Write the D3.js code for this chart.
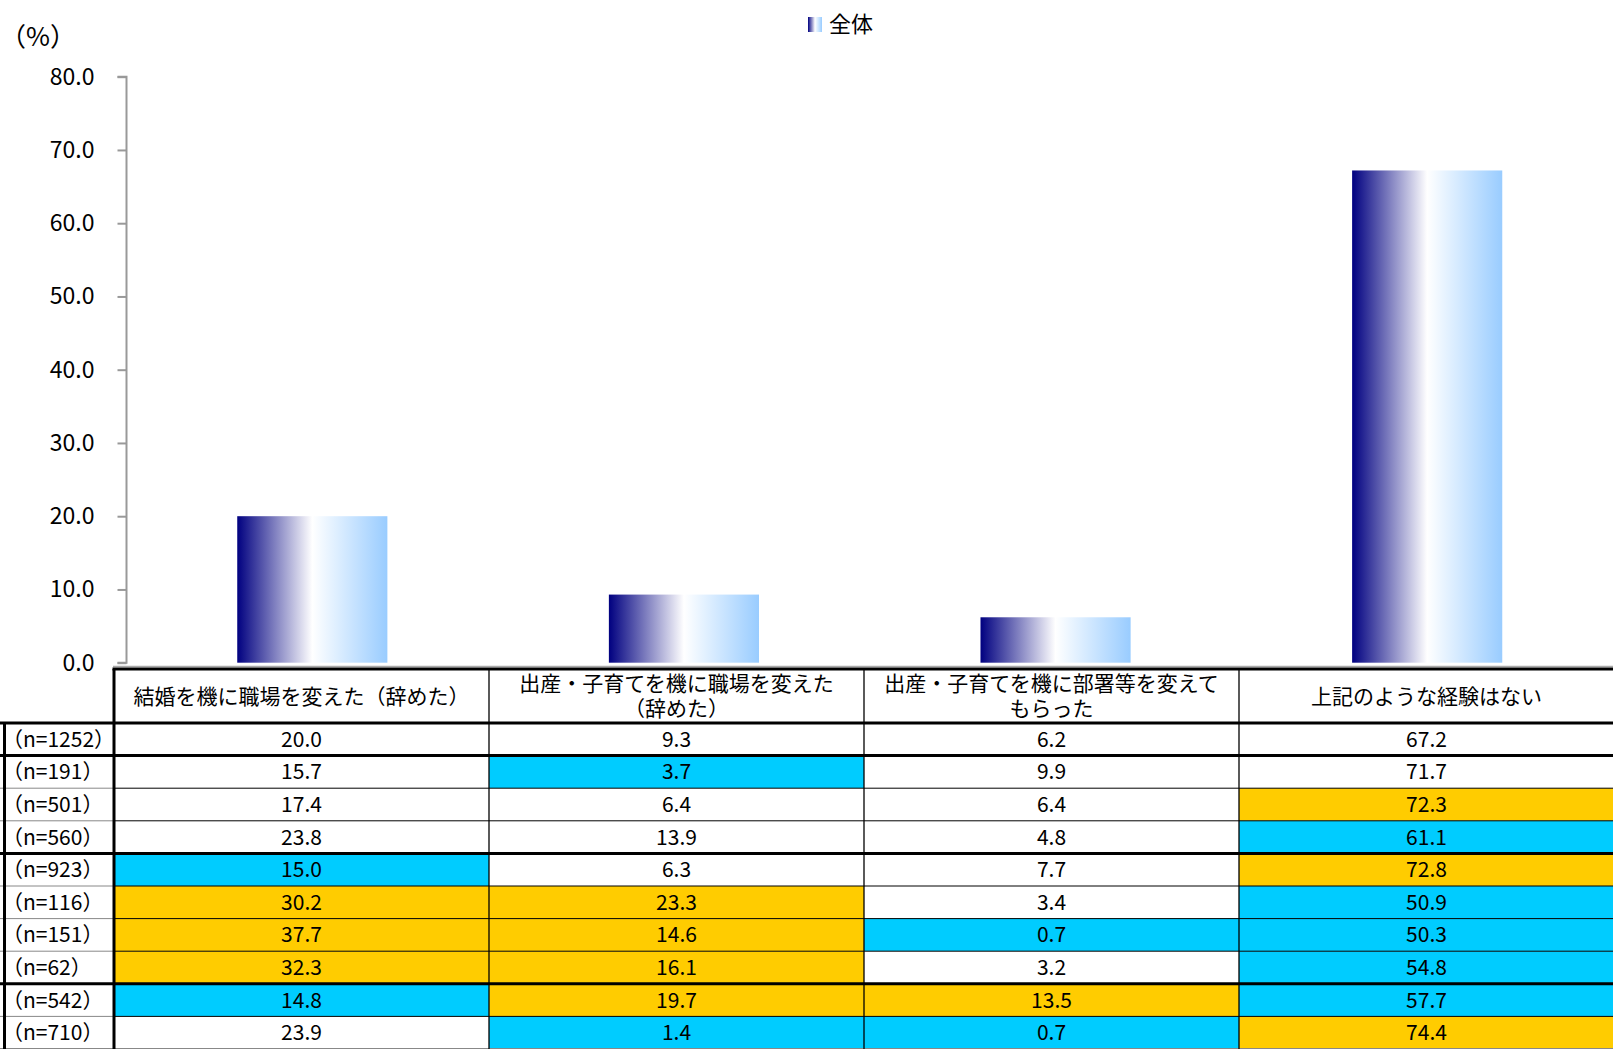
<!DOCTYPE html>
<html>
<head>
<meta charset="utf-8">
<script src="https://cdn.jsdelivr.net/npm/d3@7"></script>
<style>
  body { margin: 0; background: #fff; }
  svg { display: block; font-family: "Noto Sans CJK JP", "Noto Sans", sans-serif; }
</style>
</head>
<body>
<div id="vis"></div>
<script>
// chart data
var seriesName = "全体";
var categories = [
  "結婚を機に職場を変えた（辞めた）",
  "出産・子育てを機に職場を変えた\n（辞めた）",
  "出産・子育てを機に部署等を変えて\nもらった",
  "上記のような経験はない"
];
var overall = [20.0, 9.3, 6.2, 67.2];
var yTicks = [0, 10, 20, 30, 40, 50, 60, 70, 80];

// table rows under the chart
var rowLabels = ["（n=1252）", "（n=191）", "（n=501）", "（n=560）", "（n=923）",
  "（n=116）", "（n=151）", "（n=62）", "（n=542）", "（n=710）"];
var rowValues = [
  [20.0, 9.3, 6.2, 67.2],
  [15.7, 3.7, 9.9, 71.7],
  [17.4, 6.4, 6.4, 72.3],
  [23.8, 13.9, 4.8, 61.1],
  [15.0, 6.3, 7.7, 72.8],
  [30.2, 23.3, 3.4, 50.9],
  [37.7, 14.6, 0.7, 50.3],
  [32.3, 16.1, 3.2, 54.8],
  [14.8, 19.7, 13.5, 57.7],
  [23.9, 1.4, 0.7, 74.4]
];
// "+" = higher than overall, "-" = lower than overall
var rowMarks = [
  ["", "", "", ""],
  ["", "-", "", ""],
  ["", "", "", "+"],
  ["", "", "", "-"],
  ["-", "", "", "+"],
  ["+", "+", "", "-"],
  ["+", "+", "-", "-"],
  ["+", "+", "", "-"],
  ["-", "+", "+", "-"],
  ["", "-", "-", "+"]
];
var rowGroups = [0, 1, 1, 1, 2, 2, 2, 2, 3, 3];

var width = 1613, height = 1049;
var markColor = { "+": "#ffcc00", "-": "#00ccff", "": "#ffffff" };

var svg = d3.select("#vis").append("svg")
  .attr("width", width)
  .attr("height", height);

// gradient used for the bars and legend swatch
var defs = svg.append("defs");
var grad = defs.append("linearGradient").attr("id", "barGrad")
  .attr("x1", "0%").attr("x2", "100%").attr("y1", "0%").attr("y2", "0%");
grad.append("stop").attr("offset", "0%").attr("stop-color", "#000080");
grad.append("stop").attr("offset", "50%").attr("stop-color", "#ffffff");
grad.append("stop").attr("offset", "100%").attr("stop-color", "#99ccff");

// ---- bar chart ----
var plotLeft = 126.5, plotRight = 1613;
var y = d3.scaleLinear().domain([0, 80]).range([662.7, 76.7]);
var x = d3.scaleBand().domain(categories)
  .range([plotLeft, plotRight])
  .paddingInner(0.596)
  .paddingOuter(0.298);

var yAxis = svg.append("g")
  .attr("transform", "translate(" + plotLeft + ",0)")
  .call(d3.axisLeft(y).tickValues(yTicks).tickFormat(d3.format(".1f")).tickSize(9).tickPadding(23));
yAxis.select(".domain").attr("stroke", "#999").attr("stroke-width", 2)
  .attr("d", "M-9," + y(80) + "H0V" + y(0) + "H-9");
yAxis.selectAll(".tick line").attr("stroke", "#999").attr("stroke-width", 2);
yAxis.selectAll(".tick text")
  .attr("fill", "#000")
  .style("font-size", "23px")
  .style("font-family", "'Noto Sans CJK JP', sans-serif");

svg.append("text")
  .attr("x", 0).attr("y", 46)
  .style("font-size", "26px")
  .text("（%）");

svg.append("g").selectAll("rect")
  .data(overall)
  .join("rect")
  .attr("x", function(d, i) { return x(categories[i]); })
  .attr("y", function(d) { return y(d); })
  .attr("width", x.bandwidth())
  .attr("height", function(d) { return y(0) - y(d); })
  .attr("fill", "url(#barGrad)");

// legend
var legend = svg.append("g").attr("transform", "translate(808,17)");
legend.append("rect").attr("width", 14).attr("height", 15).attr("fill", "url(#barGrad)");
legend.append("text").attr("x", 21).attr("y", 15)
  .style("font-size", "22px")
  .text(seriesName);

// plot area bottom edge
svg.append("line")
  .attr("x1", 113).attr("x2", width)
  .attr("y1", 666.5).attr("y2", 666.5)
  .attr("stroke", "#aaa").attr("stroke-width", 1.5);

// ---- table ----
var tableLeft = 114, headerTop = 669, headerBottom = 723;
var col = d3.scaleBand().domain(d3.range(categories.length)).range([tableLeft, width + 1]);
var row = d3.scaleBand().domain(d3.range(rowLabels.length)).range([headerBottom, height]);

var table = svg.append("g");

// cells
rowValues.forEach(function(vals, r) {
  table.selectAll(null)
    .data(vals)
    .join("rect")
    .attr("x", function(d, c) { return col(c); })
    .attr("y", row(r))
    .attr("width", col.bandwidth())
    .attr("height", row.bandwidth())
    .attr("fill", function(d, c) { return markColor[rowMarks[r][c]]; });

  table.selectAll(null)
    .data(vals)
    .join("text")
    .attr("x", function(d, c) { return col(c) + col.bandwidth() / 2; })
    .attr("y", row(r) + row.bandwidth() / 2 + 7.5)
    .attr("text-anchor", "middle")
    .style("font-size", "21px")
    .text(function(d) { return d3.format(".1f")(d); });
});

// row labels
table.selectAll(".rowlab")
  .data(rowLabels)
  .join("text")
  .attr("class", "rowlab")
  .attr("x", 2)
  .attr("y", function(d, i) { return row(i) + row.bandwidth() / 2 + 7.5; })
  .style("font-size", "21px")
  .text(function(d) { return d; });

// header text
categories.forEach(function(name, c) {
  var lines = name.split("\n");
  var cy = (headerTop + headerBottom) / 2;
  var lh = 25;
  lines.forEach(function(line, k) {
    table.append("text")
      .attr("x", col(c) + col.bandwidth() / 2)
      .attr("y", cy + (k - (lines.length - 1) / 2) * lh + 7.5)
      .attr("text-anchor", "middle")
      .style("font-size", "21px")
      .text(line);
  });
});

// thin row lines (grey in label column, black in data)
d3.range(1, rowLabels.length).forEach(function(i) {
  var yy = row(i);
  var thick = rowGroups[i] !== rowGroups[i - 1];
  table.append("line")
    .attr("x1", 0).attr("x2", tableLeft)
    .attr("y1", yy).attr("y2", yy)
    .attr("stroke", thick ? "#000" : "#888")
    .attr("stroke-width", thick ? 3 : 1);
  table.append("line")
    .attr("x1", tableLeft).attr("x2", width)
    .attr("y1", yy).attr("y2", yy)
    .attr("stroke", "#000")
    .attr("stroke-width", thick ? 3 : 1);
});
table.append("line")
  .attr("x1", 0).attr("x2", width)
  .attr("y1", height - 0.5).attr("y2", height - 0.5)
  .attr("stroke", "#888").attr("stroke-width", 1);

// column lines
d3.range(1, categories.length).forEach(function(c) {
  table.append("line")
    .attr("x1", col(c)).attr("x2", col(c))
    .attr("y1", headerTop).attr("y2", height)
    .attr("stroke", "#000").attr("stroke-width", 1.3);
});

// thick header frame and label column edges
table.append("line")
  .attr("x1", tableLeft - 1.5).attr("x2", width)
  .attr("y1", headerTop).attr("y2", headerTop)
  .attr("stroke", "#000").attr("stroke-width", 3);
table.append("line")
  .attr("x1", 0).attr("x2", width)
  .attr("y1", headerBottom).attr("y2", headerBottom)
  .attr("stroke", "#000").attr("stroke-width", 3);
table.append("line")
  .attr("x1", tableLeft).attr("x2", tableLeft)
  .attr("y1", headerTop).attr("y2", height)
  .attr("stroke", "#000").attr("stroke-width", 3);
table.append("line")
  .attr("x1", 4.5).attr("x2", 4.5)
  .attr("y1", headerBottom).attr("y2", height)
  .attr("stroke", "#000").attr("stroke-width", 3);
</script>
</body>
</html>
